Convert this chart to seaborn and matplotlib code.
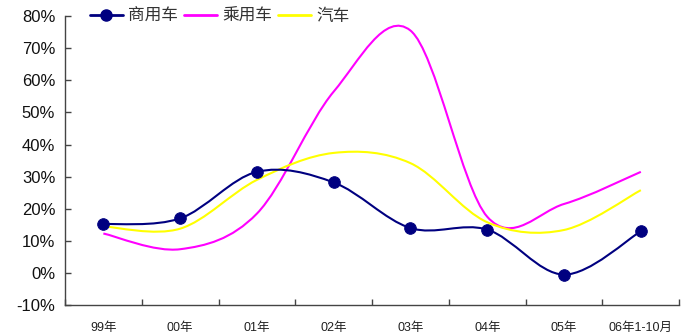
import numpy as np
import pandas as pd
import matplotlib.pyplot as plt
import seaborn as sns
from matplotlib.path import Path
from matplotlib.patches import PathPatch
from matplotlib.lines import Line2D
from matplotlib.ticker import PercentFormatter

# data (growth rates, %)
years = ['99年', '00年', '01年', '02年', '03年', '04年', '05年', '06年1-10月']
commercial = [15.2, 17.0, 31.5, 28.2, 14.0, 13.5, -0.5, 13.0]
passenger = [12.3, 7.4, 18.5, 56.5, 75.5, 17.5, 21.5, 31.5]
automobile = [14.5, 13.8, 29.0, 37.4, 34.2, 15.8, 13.4, 25.8]

series_names = ['商用车', '乘用车', '汽车']
colors = ['#000080', '#FF00FF', '#FFFF00']

sns.set_theme(style='white')
plt.rcParams['font.family'] = ['Liberation Sans', 'Noto Sans CJK SC']
plt.rcParams['axes.unicode_minus'] = False

fig = plt.figure(figsize=(6.91, 3.36), dpi=100)
ax = fig.add_axes([0.094, 0.092, 0.889, 0.86])

x = np.arange(len(years))


def smooth_path(xs, ys):
    # excel-like smoothed line: cubic bezier segments through the points
    pts = np.column_stack([xs, ys]).astype(float)
    verts = [pts[0]]
    codes = [Path.MOVETO]
    n = len(pts)
    for i in range(n - 1):
        p0 = pts[max(i - 1, 0)]
        p1 = pts[i]
        p2 = pts[i + 1]
        p3 = pts[min(i + 2, n - 1)]
        verts += [p1 + (p2 - p0) / 6, p2 - (p3 - p1) / 6, p2]
        codes += [Path.CURVE4] * 3
    return Path(verts, codes)


for vals, c in zip([passenger, automobile, commercial], [colors[1], colors[2], colors[0]]):
    ax.add_patch(PathPatch(smooth_path(x, vals), facecolor='none', edgecolor=c,
                           lw=1.5, zorder=3))

df = pd.DataFrame({'x': x, 'y': commercial})
sns.scatterplot(data=df, x='x', y='y', ax=ax, color=colors[0], s=70,
                edgecolor=colors[0], zorder=4, legend=False)

ax.set_xlim(-0.5, len(years) - 0.5)
ax.set_ylim(-10, 80)
ax.set_yticks(np.arange(-10, 81, 10))
ax.yaxis.set_major_formatter(PercentFormatter(decimals=0))
ax.set_xticks(np.arange(-0.5, len(years), 1.0))
ax.set_xticklabels([])
ax.set_xticks(x, minor=True)
ax.set_xticklabels(years, minor=True, fontsize=9, color='#222222')
ax.tick_params(axis='x', which='minor', bottom=False, length=0, pad=12)
ax.tick_params(axis='x', which='major', bottom=True, direction='in', length=4,
               width=1, color='#444444')
ax.tick_params(axis='y', left=True, direction='in', length=4, width=1, color='#444444',
               labelsize=12, labelcolor='#111111', pad=7)
ax.set_xlabel('')
ax.set_ylabel('')

for side in ['top', 'right']:
    ax.spines[side].set_visible(False)
for side in ['left', 'bottom']:
    ax.spines[side].set_color('#444444')
    ax.spines[side].set_linewidth(1.0)

handles = [
    Line2D([], [], color=colors[0], lw=2, marker='o', markersize=8),
    Line2D([], [], color=colors[1], lw=2),
    Line2D([], [], color=colors[2], lw=2),
]
fig.legend(handles, series_names, loc='center left', bbox_to_anchor=(0.108, 0.952),
           ncol=3, frameon=False, fontsize=12, handlelength=2.0, handletextpad=0.3,
           columnspacing=0.35, labelcolor='#333333')

fig.savefig('out.png', dpi=100)
